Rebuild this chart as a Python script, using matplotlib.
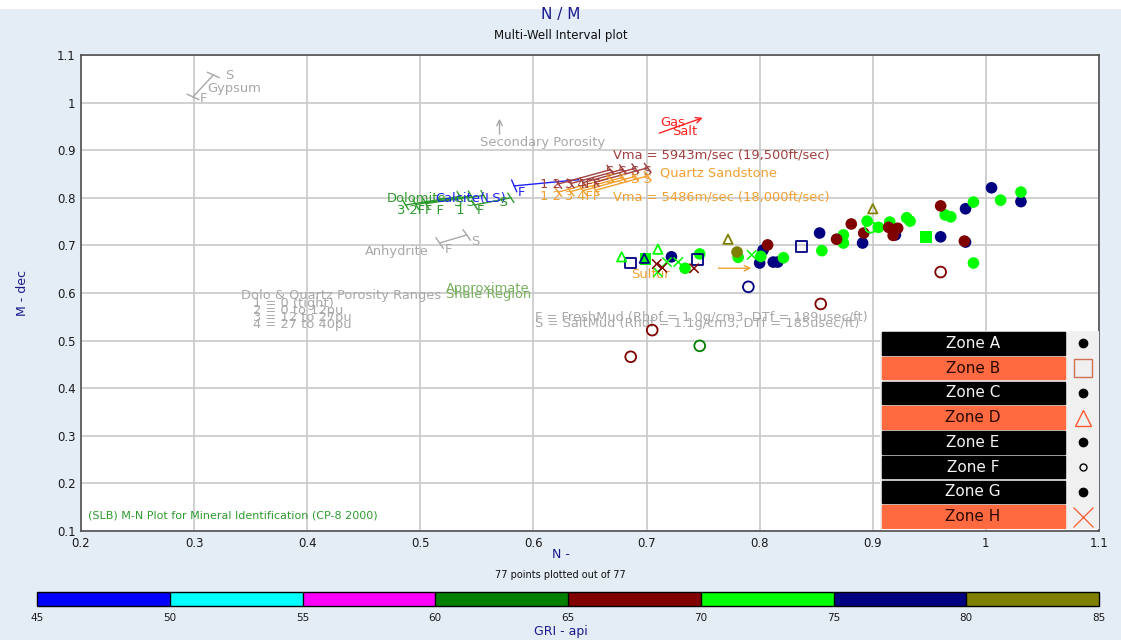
import numpy as np
import matplotlib
matplotlib.use('Agg')
import matplotlib.pyplot as plt
from matplotlib.colors import ListedColormap, BoundaryNorm
from matplotlib.colorbar import ColorbarBase
from matplotlib.patches import Rectangle

# GR colour classes (api)
gr_bounds = [45, 50, 55, 60, 65, 70, 75, 80, 85]
gr_colors = ['#0000ff', '#00ffff', '#ff00ff', '#008000', '#800000', '#00ff00', '#000080', '#808000']

# points: N, M, GR, zone
n_vals = [1.005, 1.031, 0.982, 0.960, 0.982, 0.891, 0.853, 0.920, 0.722, 0.803, 0.800, 0.812, 0.816,
          0.686, 0.745, 0.837, 0.790, 0.698,
          0.747, 0.734, 0.781, 0.801, 0.821, 0.855, 0.874, 0.874, 0.895, 0.915, 0.905, 0.930, 0.933,
          0.964, 0.969, 0.989, 1.013, 1.031, 0.989,
          0.898, 0.747, 0.678, 0.710, 0.718, 0.728, 0.793, 0.710,
          0.807, 0.881, 0.868, 0.892, 0.914, 0.922, 0.918, 0.960, 0.981,
          0.960, 0.854, 0.705, 0.686, 0.709, 0.714, 0.742,
          0.780, 0.772, 0.900]
m_vals = [0.821, 0.792, 0.777, 0.718, 0.707, 0.705, 0.726, 0.722, 0.676, 0.690, 0.663, 0.665, 0.665,
          0.663, 0.671, 0.697, 0.613, 0.673,
          0.682, 0.652, 0.675, 0.677, 0.674, 0.689, 0.722, 0.705, 0.751, 0.749, 0.738, 0.758, 0.751,
          0.764, 0.760, 0.791, 0.795, 0.812, 0.663,
          0.738, 0.489, 0.676, 0.692, 0.665, 0.665, 0.680, 0.644,
          0.701, 0.745, 0.713, 0.726, 0.738, 0.736, 0.721, 0.783, 0.709,
          0.644, 0.577, 0.522, 0.466, 0.661, 0.653, 0.652,
          0.686, 0.713, 0.777]
gr_vals = [77, 77, 77, 77, 77, 77, 77, 77, 77, 77, 77, 77, 77,
           77, 77, 77, 77, 77,
           72, 72, 72, 72, 72, 72, 72, 72, 72, 72, 72, 72, 72,
           72, 72, 72, 72, 72, 72,
           72, 62, 72, 72, 72, 72, 72, 72,
           67, 67, 67, 67, 67, 67, 67, 67, 67,
           67, 67, 67, 67, 67, 67, 67,
           82, 82, 82]
zone_vals = ['A', 'A', 'A', 'C', 'C', 'C', 'E', 'E', 'A', 'C', 'E', 'E', 'G',
             'B', 'B', 'B', 'F', 'D',
             'A', 'C', 'E', 'G', 'A', 'C', 'E', 'G', 'A', 'C', 'E', 'G', 'A',
             'C', 'E', 'G', 'A', 'C', 'E',
             'F', 'F', 'D', 'D', 'H', 'H', 'H', 'H',
             'A', 'C', 'E', 'G', 'A', 'C', 'E', 'G', 'A',
             'F', 'F', 'F', 'F', 'H', 'H', 'H',
             'G', 'D', 'D']

# filled squares (lime)
sq_n = [0.947, 0.699]
sq_m = [0.718, 0.671]
sq_gr = [72, 72]

zones = ['Zone A', 'Zone B', 'Zone C', 'Zone D', 'Zone E', 'Zone F', 'Zone G', 'Zone H']

# chart template overlay (N, M)
gypsum_seg = ([0.299, 0.317], [1.012, 1.058])
anhydrite_seg = ([0.517, 0.541], [0.705, 0.722])
calcite_seg = ([0.583, 0.640], [0.825, 0.838])
quartz_f_x = [0.622, 0.633, 0.644, 0.655]
quartz_s_x = [0.668, 0.679, 0.690, 0.701]
quartz_f_y = [0.829, 0.830, 0.832, 0.833]
quartz_s_y = [0.859, 0.860, 0.862, 0.863]
dolo_f_x = [0.487, 0.496, 0.505, 0.548]
dolo_s_x = [0.535, 0.545, 0.556, 0.580]
dolo_f_y = [0.785, 0.786, 0.788, 0.785]
dolo_s_y = [0.803, 0.804, 0.805, 0.800]
sec_por_arrow = ([0.570, 0.570], [0.928, 0.972])
gas_arrow = ([0.709, 0.752], [0.934, 0.970])
sulfur_arrow = ([0.761, 0.795], [0.652, 0.652])

cmap = ListedColormap(gr_colors)
norm = BoundaryNorm(gr_bounds, cmap.N)

fig = plt.figure(figsize=(11.21, 6.40), dpi=100)
fig.patch.set_facecolor('#e4ecf6')
fig.add_artist(Rectangle((0, 0.988), 1, 0.012, transform=fig.transFigure, color='white', zorder=-1))

ax = fig.add_axes([81 / 1121, 1 - 531 / 640, 1018 / 1121, 476 / 640])
ax.set_xlim(0.2, 1.1)
ax.set_ylim(0.1, 1.1)
ax.set_xticks(np.arange(0.2, 1.11, 0.1))
ax.set_yticks(np.arange(0.1, 1.11, 0.1))
ax.set_xticklabels(['0.2', '0.3', '0.4', '0.5', '0.6', '0.7', '0.8', '0.9', '1', '1.1'])
ax.set_yticklabels(['0.1', '0.2', '0.3', '0.4', '0.5', '0.6', '0.7', '0.8', '0.9', '1', '1.1'])
ax.grid(True, color='#c8c8c8', linewidth=1.2)
ax.set_axisbelow(True)
ax.tick_params(length=0, labelsize=8.5, labelcolor='#1a1a1a', pad=4)
for s in ax.spines.values():
    s.set_color('#505050')
    s.set_linewidth(1.2)

narrow = ['Liberation Sans Narrow', 'DejaVu Sans']
fig.text(0.5, 1 - 14 / 640, 'N / M', ha='center', va='center', fontsize=11, color='#1a1a8c', family=narrow)
fig.text(0.5, 1 - 35 / 640, 'Multi-Well Interval plot', ha='center', va='center', fontsize=8.5,
         color='#101010', family=narrow)
fig.text(0.5, 1 - 555 / 640, 'N -', ha='center', va='center', fontsize=9, color='#1a1a8c')
fig.text(0.5, 1 - 575 / 640, '77 points plotted out of 77', ha='center', va='center', fontsize=7,
         color='#101010', family=narrow)
fig.text(22 / 1121, 1 - 293 / 640, 'M - dec', ha='center', va='center', fontsize=9, color='#1a1a8c',
         rotation=90)


def seg_ticks(xs, ys, color, tick=6, lw=1.0, ends=(0, 1)):
    ax.plot(xs, ys, color=color, lw=lw, zorder=2)
    p = ax.transData.transform(np.column_stack([xs, ys]))
    d = p[1] - p[0]
    d = d / np.hypot(*d)
    nv = np.array([-d[1], d[0]])
    inv = ax.transData.inverted()
    for i in ends:
        a = inv.transform(p[i] - nv * tick + d * 2)
        b = inv.transform(p[i] + nv * tick - d * 2)
        ax.plot([a[0], b[0]], [a[1], b[1]], color=color, lw=lw, zorder=2)


def note(x, y, s, color, size=9.4, ha='center'):
    ax.text(x, y, s, color=color, fontsize=size, ha=ha, va='center')


gray = '#a8a8a8'
red_q = '#a04040'
orange = '#f0a030'
dgreen = '#2e9a2e'

# gypsum
seg_ticks(*gypsum_seg, gray)
note(0.308, 1.009, 'F', gray)
note(0.331, 1.057, 'S', gray)
note(0.335, 1.030, 'Gypsum', gray)

# anhydrite
seg_ticks(*anhydrite_seg, gray)
note(0.525, 0.691, 'F', gray)
note(0.549, 0.709, 'S', gray)
note(0.479, 0.688, 'Anhydrite', gray)

# secondary porosity
ax.annotate('', xy=(sec_por_arrow[0][1], sec_por_arrow[1][1]), xytext=(sec_por_arrow[0][0], sec_por_arrow[1][0]),
            arrowprops=dict(arrowstyle='->', color=gray, lw=1))
note(0.6085, 0.917, 'Secondary Porosity', gray)

# gas / salt
ax.annotate('', xy=(gas_arrow[0][1], gas_arrow[1][1]), xytext=(gas_arrow[0][0], gas_arrow[1][0]),
            arrowprops=dict(arrowstyle='->', color='#ff2020', lw=1))
note(0.723, 0.959, 'Gas', '#ff2020')
note(0.734, 0.940, 'Salt', '#ff2020')

# calcite
seg_ticks(*calcite_seg, '#2020ff', ends=(0,))
note(0.589, 0.811, 'F', '#2020ff')

# quartz sandstone fans
for i in range(4):
    seg_ticks([quartz_f_x[i], quartz_s_x[i]], [quartz_f_y[i], quartz_s_y[i]], red_q, tick=5)
    seg_ticks([quartz_f_x[i], quartz_s_x[i]], [quartz_f_y[i] - 0.017, quartz_s_y[i] - 0.017], orange, tick=5)
note(0.606, 0.827, '1 2 3 4FF', red_q, ha='left')
note(0.606, 0.802, '1 2 3 4FF', orange, ha='left')
note(0.664, 0.856, 'S S S S', red_q, ha='left')
note(0.664, 0.839, 'S S S S', orange, ha='left')
note(0.712, 0.852, 'Quartz Sandstone', orange, ha='left')
note(0.670, 0.890, 'Vma = 5943m/sec (19,500ft/sec)', red_q, ha='left')
note(0.670, 0.802, 'Vma = 5486m/sec (18,000ft/sec)', orange, ha='left')

# dolomite
for i in range(4):
    seg_ticks([dolo_f_x[i], dolo_s_x[i]], [dolo_f_y[i], dolo_s_y[i]], dgreen, tick=5)
note(0.470, 0.799, 'Dolomite', dgreen, ha='left')
note(0.513, 0.799, 'Calcite(LS)', '#2020ff', ha='left')
note(0.479, 0.774, '3 2FF F   1   F', dgreen, ha='left')
note(0.530, 0.790, 'S S      S', dgreen, ha='left')

# sulfur
ax.annotate('', xy=(sulfur_arrow[0][1], sulfur_arrow[1][1]), xytext=(sulfur_arrow[0][0], sulfur_arrow[1][0]),
            arrowprops=dict(arrowstyle='->', color=orange, lw=1))
note(0.703, 0.638, 'Sulfur', orange)

# shale region
note(0.560, 0.609, 'Approximate', '#78b060')
note(0.560, 0.597, 'Shale Region', '#78b060')

# porosity ranges and mud notes
note(0.430, 0.594, 'Dolo & Quartz Porosity Ranges', gray)
for k, s in enumerate(['1 = 0 (tight)', '2 = 0 to 12pu', '3 = 12 to 27pu', '4 = 27 to 40pu']):
    note(0.352, 0.578 - k * 0.0145, s, gray, ha='left')
note(0.601, 0.548, 'F = FreshMud (Rhof = 1.0g/cm3, DTf = 189usec/ft)', gray, ha='left')
note(0.601, 0.535, 'S = SaltMud (Rhof = 1.1g/cm3, DTf = 185usec/ft)', gray, ha='left')
ax.text(0.007, 0.023, '(SLB) M-N Plot for Mineral Identification (CP-8 2000)', color=dgreen, fontsize=8,
        ha='left', va='bottom', transform=ax.transAxes)

# data points
n_arr = np.array(n_vals)
m_arr = np.array(m_vals)
g_arr = np.array(gr_vals)
z_arr = np.array(zone_vals)

filled = np.isin(z_arr, ['A', 'C', 'E', 'G'])
ax.scatter(n_arr[filled], m_arr[filled], c=g_arr[filled], cmap=cmap, norm=norm, s=70,
           edgecolors='none', zorder=4)
ax.scatter(sq_n, sq_m, c=sq_gr, cmap=cmap, norm=norm, marker='s', s=70, edgecolors='none', zorder=4)
hollow = {'B': 's', 'D': '^', 'F': 'o'}
for z, mk in hollow.items():
    sel = z_arr == z
    ax.scatter(n_arr[sel], m_arr[sel], marker=mk, s=60 if mk != '^' else 45, facecolors='none',
               edgecolors=cmap(norm(g_arr[sel])), linewidths=1.3, zorder=4)
sel = z_arr == 'H'
ax.scatter(n_arr[sel], m_arr[sel], marker='x', s=45, c=g_arr[sel], cmap=cmap, norm=norm,
           linewidths=1.1, zorder=4)

# zone legend table
lx0, lx1 = 880 / 1121, 1099 / 1121
ly0, ly1 = 1 - 529 / 640, 1 - 331 / 640
lax = fig.add_axes([lx0, ly0, lx1 - lx0, ly1 - ly0])
lax.set_xlim(0, 219)
lax.set_ylim(len(zones), 0)
lax.axis('off')
lax.add_patch(Rectangle((0, 0), 219, len(zones), color='#f0f0f0'))
orange_row = '#ff6a40'
leg_mark = {'Zone A': ('o', 'k', True), 'Zone B': ('s', '#d07050', False), 'Zone C': ('o', 'k', True),
            'Zone D': ('^', '#ff5a30', False), 'Zone E': ('o', 'k', True), 'Zone F': ('o', 'k', False),
            'Zone G': ('o', 'k', True), 'Zone H': ('x', '#ff5a30', False)}
for i, z in enumerate(zones):
    is_orange = z in ('Zone B', 'Zone D', 'Zone H')
    lax.add_patch(Rectangle((2, i + 0.05), 183, 0.9, color=orange_row if is_orange else 'black'))
    lax.text(93, i + 0.5, z, ha='center', va='center', fontsize=11,
             color='#2a0800' if is_orange else '#f4f4f4')
    mk, col, fill = leg_mark[z]
    size = {'o': 5 if z == 'Zone F' else 6, 's': 13, '^': 11, 'x': 14}[mk]
    lax.plot(203, i + 0.5, marker=mk, ms=size, color=col,
             markerfacecolor=col if fill else 'none', markeredgewidth=1.0 if mk != 'x' else 0.9,
             linestyle='none')

# GR colour bar
cax = fig.add_axes([37 / 1121, 1 - 606 / 640, 1062 / 1121, 14 / 640])
cb = ColorbarBase(cax, cmap=cmap, norm=norm, orientation='horizontal', ticks=gr_bounds)
cb.outline.set_linewidth(1.0)
cb.ax.tick_params(length=0, labelsize=7.5, labelcolor='#1a1a1a', pad=5)
for t in cb.ax.get_xticklabels():
    t.set_family(narrow)
cax.vlines(gr_bounds[1:-1], 0, 1, colors='black', lw=1.0)
fig.text(0.5, 1 - 632 / 640, 'GRI - api', ha='center', va='center', fontsize=9, color='#1a1a8c')

fig.savefig('out.png', dpi=100, facecolor=fig.get_facecolor())
